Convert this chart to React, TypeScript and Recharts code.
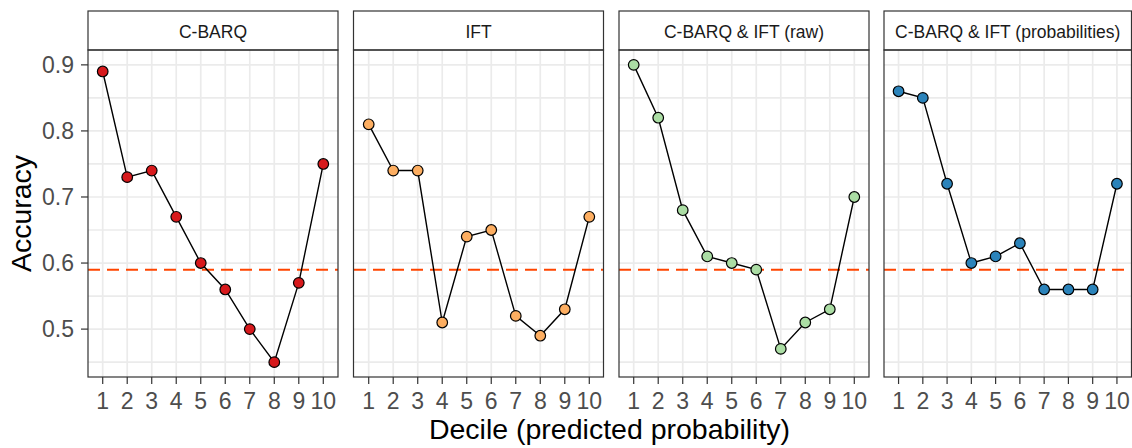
import {
  CartesianGrid,
  Line,
  LineChart,
  ReferenceLine,
  XAxis,
  YAxis,
} from "recharts";

const deciles = [1, 2, 3, 4, 5, 6, 7, 8, 9, 10];
const cbarq = [0.89, 0.73, 0.74, 0.67, 0.6, 0.56, 0.5, 0.45, 0.57, 0.75];
const ift = [0.81, 0.74, 0.74, 0.51, 0.64, 0.65, 0.52, 0.49, 0.53, 0.67];
const combinedRaw = [0.9, 0.82, 0.68, 0.61, 0.6, 0.59, 0.47, 0.51, 0.53, 0.7];
const combinedProb = [0.86, 0.85, 0.72, 0.6, 0.61, 0.63, 0.56, 0.56, 0.56, 0.72];

const panelTitles = [
  "C-BARQ",
  "IFT",
  "C-BARQ & IFT (raw)",
  "C-BARQ & IFT (probabilities)",
];
const panelSeries = [cbarq, ift, combinedRaw, combinedProb];
const pointColors = ["#d7191c", "#fdae61", "#abdda4", "#2b83ba"];
const chanceLevel = 0.59;
const yTicks = [0.5, 0.6, 0.7, 0.8, 0.9];
const yGrid = [0.45, 0.5, 0.55, 0.6, 0.65, 0.7, 0.75, 0.8, 0.85, 0.9];

// layout (px)
const panelLefts = [88, 353.5, 619, 884];
const panelWidths = [250, 250, 250, 247.5];
const stripTop = 11;
const plotTop = 50;
const plotBottom = 377;
const yAxisW = 60;
const xAxisH = 40;
const font = "'Liberation Sans', Arial, sans-serif";

function Panel({ idx }: { idx: number }) {
  const data = deciles.map((d, i) => ({ decile: d, acc: panelSeries[idx][i] }));
  const showY = idx === 0;
  const w = panelWidths[idx] + (showY ? yAxisW : 0);
  const left = panelLefts[idx] - (showY ? yAxisW : 0);
  return (
    <div style={{ position: "absolute", left, top: plotTop }}>
      <LineChart
        width={w}
        height={plotBottom - plotTop + xAxisH}
        data={data}
        margin={{ top: 0, right: 0, bottom: 0, left: 0 }}
      >
        <CartesianGrid
          stroke="#ebebeb"
          strokeWidth={1.7}
          horizontalValues={yGrid}
          verticalValues={deciles}
        />
        <XAxis
          dataKey="decile"
          type="number"
          domain={[0.4, 10.6]}
          ticks={deciles}
          interval={0}
          allowDataOverflow
          height={xAxisH}
          axisLine={false}
          tickLine={{ stroke: "#333", strokeWidth: 1.2 }}
          tickSize={7}
          tickMargin={9}
          tick={{ fill: "#4d4d4d", fontSize: 23 }}
        />
        <YAxis
          type="number"
          domain={[0.4275, 0.9225]}
          ticks={yTicks}
          allowDataOverflow
          hide={!showY}
          width={yAxisW}
          axisLine={false}
          tickLine={{ stroke: "#333", strokeWidth: 1.2 }}
          tickSize={7}
          tickMargin={7}
          tick={{ fill: "#4d4d4d", fontSize: 23 }}
          tickFormatter={(v: number) => v.toFixed(1)}
        />
        <ReferenceLine
          y={chanceLevel}
          stroke="#ff4500"
          strokeWidth={2}
          strokeDasharray="12 7"
        />
        <Line
          dataKey="acc"
          stroke="#000"
          strokeWidth={1.4}
          isAnimationActive={false}
          dot={{ r: 5.3, fill: pointColors[idx], stroke: "#000", strokeWidth: 1.2, fillOpacity: 1 }}
        />
      </LineChart>
    </div>
  );
}

export default function App() {
  return (
    <div
      style={{
        position: "absolute",
        left: 0,
        top: 0,
        width: 1132,
        height: 448,
        overflow: "hidden",
        background: "#fff",
        fontFamily: font,
      }}
    >
      {panelTitles.map((_, i) => (
        <Panel key={i} idx={i} />
      ))}
      <svg
        width={1132}
        height={448}
        style={{ position: "absolute", left: 0, top: 0, pointerEvents: "none" }}
      >
        {panelTitles.map((t, i) => (
          <g key={t}>
            <rect
              x={panelLefts[i]}
              y={stripTop}
              width={panelWidths[i]}
              height={plotTop - stripTop}
              fill="#fff"
              stroke="#333"
              strokeWidth={1.2}
            />
            <text
              x={panelLefts[i] + panelWidths[i] / 2}
              y={37.5}
              textAnchor="middle"
              fontSize={17.5}
              fill="#1a1a1a"
              fontFamily={font}
            >
              {t}
            </text>
            <rect
              x={panelLefts[i]}
              y={plotTop}
              width={panelWidths[i]}
              height={plotBottom - plotTop}
              fill="none"
              stroke="#333"
              strokeWidth={1.2}
            />
          </g>
        ))}
        <text
          x={609.5}
          y={439}
          textAnchor="middle"
          fontSize={28.5}
          fill="#000"
          fontFamily={font}
        >
          Decile (predicted probability)
        </text>
        <text
          transform="translate(31,213.5) rotate(-90)"
          textAnchor="middle"
          fontSize={28.5}
          fill="#000"
          fontFamily={font}
        >
          Accuracy
        </text>
      </svg>
    </div>
  );
}
